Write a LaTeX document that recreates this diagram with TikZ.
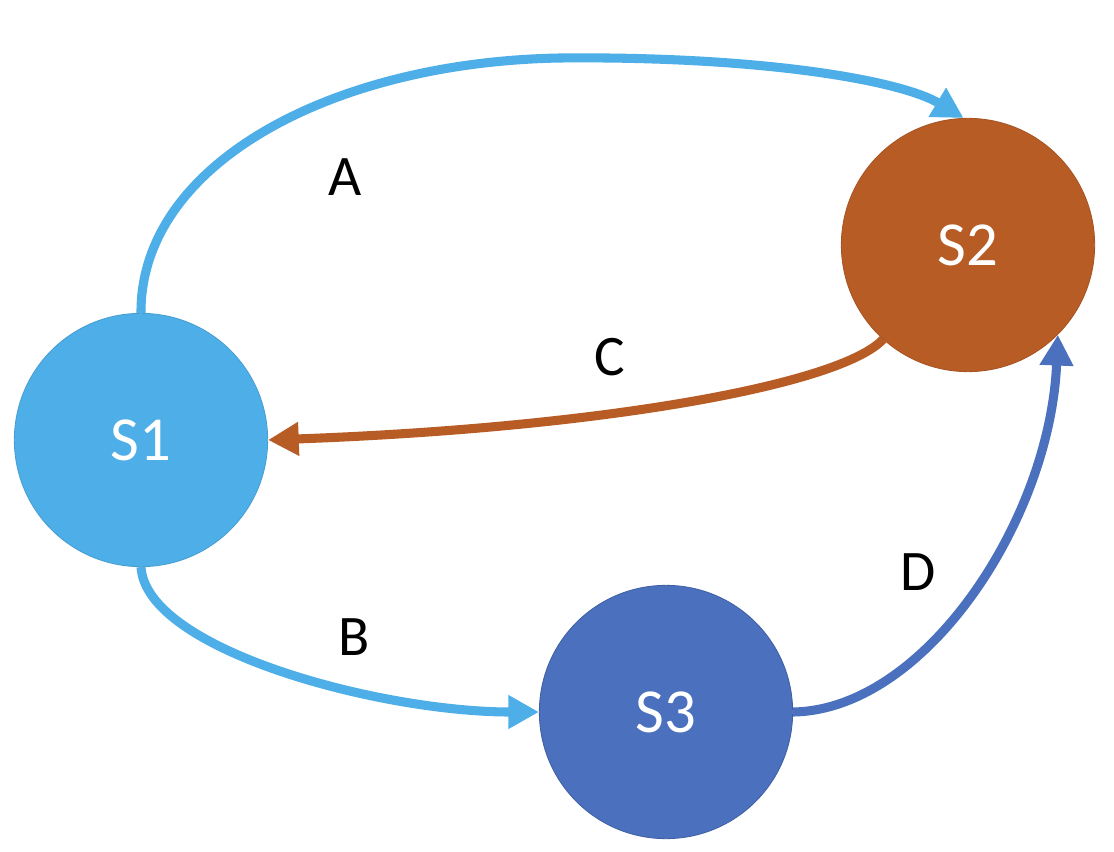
\documentclass[tikz,border=0pt]{standalone}
\usepackage{fontspec}
\setmainfont{Carlito}
\usetikzlibrary{arrows.meta}
\definecolor{cA}{HTML}{4DAEE8}
\definecolor{cB}{HTML}{B85C26}
\definecolor{cC}{HTML}{4A70BE}
\begin{document}
\begin{tikzpicture}[x=0.75pt,y=-0.75pt,
  state/.style={circle,minimum size=190pt,inner sep=0pt,text=white,font=\fontsize{47}{50}\selectfont},
  lbl/.style={font=\fontsize{43}{46}\selectfont,text=black},
  conn/.style={line width=6.8pt,-{Triangle[length=23pt,width=24pt]}}]
\useasboundingbox (0,0) rectangle (1114,852);
\node[state,fill=cA,draw=cA!90!black,line width=0.6pt] (s1) at (141,440) {S1};
\node[state,fill=cB,draw=cB!90!black,line width=0.6pt] (s2) at (968,245) {S2};
\node[state,fill=cC,draw=cC!85!black,line width=0.6pt] (s3) at (666,712) {S3};
\draw[conn,cA] (s1.north) .. controls (140,165) and (330,62) .. (560,58)
   .. controls (760,56) and (900,80) .. (s2.92);
\draw[conn,cB] (s2.228) .. controls (840,385) and (600,428) .. (s1.east);
\draw[conn,cA] (s1.south) .. controls (146,650) and (380,712) .. (s3.west);
\draw[conn,cC] (s3.east) .. controls (925,710) and (1050,520) .. (s2.-45);
\node[lbl] (la) at (345,177) {A};
\node[lbl] (lc) at (610,357) {C};
\node[lbl] (lb) at (354,637) {B};
\node[lbl] (ld) at (918,572) {D};
\end{tikzpicture}
\end{document}
